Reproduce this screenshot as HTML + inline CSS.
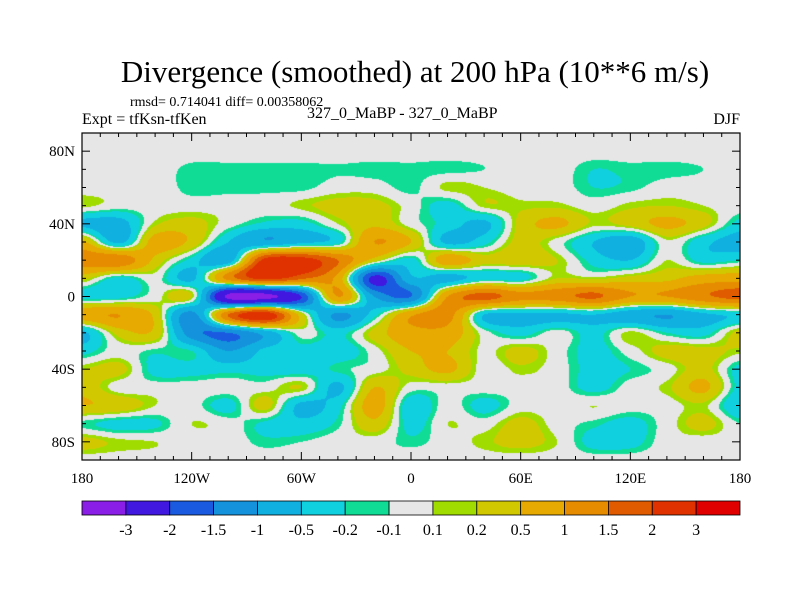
<!DOCTYPE html>
<html><head><meta charset="utf-8"><style>
body{margin:0;background:#fff;}
#wrap{position:relative;width:800px;height:600px;font-family:"Liberation Serif",serif;color:#000;}
.t{position:absolute;white-space:nowrap;}
</style></head><body>
<div id="wrap">
<div class="t" style="left:0;width:830px;text-align:center;top:54px;font-size:31px;">Divergence (smoothed) at 200 hPa (10**6 m/s)</div>
<div class="t" style="left:130px;top:95px;font-size:14px;">rmsd= 0.714041 diff= 0.00358062</div>
<div class="t" style="left:82px;top:111px;font-size:16px;">Expt = tfKsn-tfKen</div>
<div class="t" style="left:307px;top:105px;font-size:16px;">327_0_MaBP - 327_0_MaBP</div>
<div class="t" style="right:60px;top:111px;font-size:16px;">DJF</div>
<canvas id="map" width="658" height="327" style="position:absolute;left:82px;top:133px;"></canvas>
<svg id="ov" width="800" height="600" style="position:absolute;left:0;top:0;"></svg>
</div>
<script>
const levels=[-3,-2,-1.5,-1,-0.5,-0.2,-0.1,0.1,0.2,0.5,1,1.5,2,3];
const colors=["#8a1ee6","#4018e0","#1a5ae0","#1492dc","#10b0e0","#10d0e0","#10dc96","#e6e6e6","#a0dc00","#d2c800","#e6aa00","#e68c00","#e05a00","#e03200","#e00000"];
const lons=[-180,-160,-140,-120,-100,-80,-60,-40,-20,0,20,40,60,80,100,120,140,160,180];
const lats=[90,80,70,60,50,40,30,20,10,0,-10,-20,-30,-40,-50,-60,-70,-80,-90];
const row90 =[0,0,0,0,0,0,0,0,0,0,0,0,0,0,0,0,0,0,0];
const row80 =[0,0,0,0,0,0,0,0,0,0,0,0,0,0,0,0,0,0,0];
const row70 =[0,0,0,-0.15,-0.15,-0.15,-0.15,-0.12,-0.15,-0.15,-0.15,-0.1,0,0,-0.2,-0.15,-0.15,-0.1,0];
const row60 =[0,0,0,-0.15,-0.15,-0.15,-0.15,0,0,-0.15,0.15,0.1,0,0,-0.2,-0.15,0,0,0];
const row50 =[0.15,0,0,0,0,0,0.15,0.3,0.3,0,-0.3,0.15,0.15,0.15,0,0.15,0.2,0.1,0];
const row40 =[-0.6,-0.7,0.15,0.3,0,-0.25,-0.3,0.1,0.4,0,-0.3,-0.6,0.3,0.6,0.15,0.3,0.6,0.3,-0.3];
const row30 =[0.6,-0.6,0.7,0.4,-0.5,-0.9,-0.6,-0.3,1.0,0.5,-0.6,-0.3,0.3,0,-0.5,-0.8,0.05,-0.4,-0.7];
const row20 =[1.3,1.4,0.4,-0.3,-0.8,2.2,2.3,1.5,0.3,-0.3,0.8,0.3,0.4,0.2,-0.3,-0.5,0.1,-0.3,-0.2];
const row10 =[0.3,-0.3,0,-0.6,1.2,2.2,1.6,0.8,-2.2,-0.6,-0.7,-0.3,-0.3,0.2,0.15,0.3,0.4,0.7,0.8];
const row0  =[-0.3,-0.3,0,0.2,-3.2,-3.3,-2.0,1.0,-1.0,-1.5,1.0,1.7,1.2,1.3,1.6,1.0,1.0,1.4,1.7];
const rowS10=[0.8,1.0,0.4,-1.2,1.5,2.5,0.3,-1.1,-0.3,0.9,1.2,-0.5,-0.6,-0.6,-0.5,-0.8,-1.0,-0.6,-0.4];
const rowS20=[-0.6,0.3,0.4,-1.3,-1.5,-0.8,0,-0.3,0.3,0.8,0.8,0,-0.3,0,-0.3,0.15,-0.2,-0.3,0.3];
const rowS30=[-0.3,0,-0.15,-0.2,-1.0,-0.4,-0.3,-0.4,0,0.5,0.5,0.05,0.3,0,-0.3,0,0.3,0.3,0.15];
const rowS40=[0.2,0.3,-0.3,-0.3,-0.3,-0.3,-0.35,-0.15,0,0.3,0.6,0,0.15,0,-0.3,-0.2,0,0.3,-0.3];
const rowS50=[0.4,0,0,0,0,0,0.2,-0.6,0.5,0,0,0,0,0,-0.3,0,0.15,0.6,-0.3];
const rowS60=[0.5,0.4,0.1,0,-0.3,0.3,-0.6,-0.3,0.7,-0.4,0,-0.3,0,0,0.1,0,0,0.15,-0.5];
const rowS70=[-0.15,-0.3,-0.25,0.1,0,-0.25,-0.4,-0.15,0.4,-0.3,0.1,0,0.3,0,-0.15,-0.3,0,0.3,-0.1];
const rowS80=[0.3,0.15,0.1,0,0,-0.15,-0.1,0,0,-0.15,0,0.15,0.3,0.1,-0.3,-0.3,0,0,0];
const rowS90=[0,0,0,0,0,0,0,0,0,0,0,0,0,0,0,0,0,0,0];
const field=[row90,row80,row70,row60,row50,row40,row30,row20,row10,row0,rowS10,rowS20,rowS30,rowS40,rowS50,rowS60,rowS70,rowS80,rowS90];
const xTicks=[-180,-120,-60,0,60,120,180];
const xTickLabels=["180","120W","60W","0","60E","120E","180"];
const yTicks=[80,40,0,-40,-80];
const yTickLabels=["80N","40N","0","40S","80S"];

const X0=82,X1=740,Y0=133,Y1=460;
function xs(lon){return X0+(lon+180)*(X1-X0)/360;}
function ys(lat){return Y0+(90-lat)*(Y1-Y0)/180;}
function hex(c){return [parseInt(c.substr(1,2),16),parseInt(c.substr(3,2),16),parseInt(c.substr(5,2),16)];}
const rgb=colors.map(hex);
function bin(v){let i=0;while(i<levels.length&&v>=levels[i])i++;return i;}
function cr(p0,p1,p2,p3,t){return 0.5*((2*p1)+(-p0+p2)*t+(2*p0-5*p1+4*p2-p3)*t*t+(-p0+3*p1-3*p2+p3)*t*t*t);}
function g(j,i){j=Math.max(0,Math.min(lats.length-1,j));i=Math.max(0,Math.min(lons.length-1,i));return field[j][i];}
function sample(lon,lat){
  const dl=lons[1]-lons[0];const dp=lats[0]-lats[1];
  let fi=(lon-lons[0])/dl, fj=(lats[0]-lat)/dp;
  fi=Math.max(0,Math.min(lons.length-1.0001,fi));fj=Math.max(0,Math.min(lats.length-1.0001,fj));
  const i=Math.floor(fi),j=Math.floor(fj),a=fi-i,b=fj-j;
  const r=[];
  for(let k=-1;k<=2;k++)r.push(cr(g(j+k,i-1),g(j+k,i),g(j+k,i+1),g(j+k,i+2),a));
  return cr(r[0],r[1],r[2],r[3],b);
}
const cv=document.getElementById('map'),ctx=cv.getContext('2d');
const W=cv.width,H=cv.height,img=ctx.createImageData(W,H);
for(let py=0;py<H;py++){for(let px=0;px<W;px++){
  const lon=-180+(px+0.5)*360/W, lat=90-(py+0.5)*180/H;
  const c=rgb[bin(sample(lon,lat))];const k=(py*W+px)*4;
  img.data[k]=c[0];img.data[k+1]=c[1];img.data[k+2]=c[2];img.data[k+3]=255;}}
ctx.putImageData(img,0,0);

const NS="http://www.w3.org/2000/svg",svg=document.getElementById('ov');
function el(t,at){const e=document.createElementNS(NS,t);for(const k in at)e.setAttribute(k,at[k]);svg.appendChild(e);return e;}
const frame=el('rect',{x:X0,y:Y0,width:X1-X0,height:Y1-Y0,fill:'none',stroke:'#000','stroke-width':1.2});


for(let lon=-180;lon<=180;lon+=10){const major=(lon%60===0);const L=major?8:4;const x=xs(lon);
  el('line',{x1:x,y1:Y1,x2:x,y2:Y1-L,stroke:'#000'});el('line',{x1:x,y1:Y0,x2:x,y2:Y0+L,stroke:'#000'});}
for(let lat=-90;lat<=90;lat+=10){const major=(lat%40===0);const L=major?8:4;const y=ys(lat);
  el('line',{x1:X0,y1:y,x2:X0+L,y2:y,stroke:'#000'});el('line',{x1:X1,y1:y,x2:X1-L,y2:y,stroke:'#000'});}
xTicks.forEach((v,i)=>{const t=el('text',{x:xs(v),y:Y1+23,'text-anchor':'middle','font-size':15,'font-family':'Liberation Serif,serif'});t.textContent=xTickLabels[i];
  
  });
yTicks.forEach((v,i)=>{const t=el('text',{x:X0-7,y:ys(v)+5,'text-anchor':'end','font-size':15,'font-family':'Liberation Serif,serif'});t.textContent=yTickLabels[i];
  
  });
const CB0=501,CB1=515,bw=(X1-X0)/colors.length;
colors.forEach((c,i)=>{const r=el('rect',{x:X0+i*bw,y:CB0,width:bw,height:CB1-CB0,fill:c,stroke:'#000','stroke-width':0.8});
  
  });
levels.forEach((v,i)=>{const t=el('text',{x:X0+(i+1)*bw,y:CB1+20,'text-anchor':'middle','font-size':16,'font-family':'Liberation Serif,serif'});t.textContent=String(v);
  
  });
</script>
</body></html>
